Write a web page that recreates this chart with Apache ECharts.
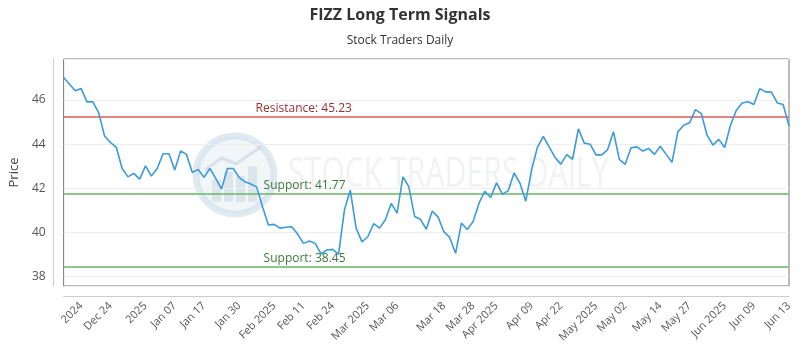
<!DOCTYPE html>
<html>
<head>
<meta charset="utf-8">
<script src="https://cdn.jsdelivr.net/npm/echarts@6/dist/echarts.min.js"></script>
<style>html,body{margin:0;padding:0;background:#fff}#c{width:800px;height:350px}</style>
</head>
<body>
<div id="c"></div>
<script>
const dates = [
"2024-12-12","2024-12-13","2024-12-16","2024-12-17","2024-12-18","2024-12-19","2024-12-20","2024-12-23","2024-12-24","2024-12-26","2024-12-27","2024-12-30","2024-12-31",
"2025-01-02","2025-01-03","2025-01-06","2025-01-07","2025-01-08","2025-01-10","2025-01-13","2025-01-14","2025-01-15","2025-01-16","2025-01-17","2025-01-21","2025-01-22","2025-01-23","2025-01-24","2025-01-27","2025-01-28","2025-01-29","2025-01-30","2025-01-31",
"2025-02-03","2025-02-04","2025-02-05","2025-02-06","2025-02-07","2025-02-10","2025-02-11","2025-02-12","2025-02-13","2025-02-14","2025-02-18","2025-02-19","2025-02-20","2025-02-21","2025-02-24","2025-02-25","2025-02-26","2025-02-27","2025-02-28",
"2025-03-03","2025-03-04","2025-03-05","2025-03-06","2025-03-07","2025-03-10","2025-03-11","2025-03-12","2025-03-13","2025-03-14","2025-03-17","2025-03-18","2025-03-19","2025-03-20","2025-03-21","2025-03-24","2025-03-25","2025-03-26","2025-03-27","2025-03-28","2025-03-31",
"2025-04-01","2025-04-02","2025-04-03","2025-04-04","2025-04-07","2025-04-08","2025-04-09","2025-04-10","2025-04-11","2025-04-14","2025-04-15","2025-04-16","2025-04-17","2025-04-21","2025-04-22","2025-04-23","2025-04-24","2025-04-25","2025-04-28","2025-04-29","2025-04-30",
"2025-05-01","2025-05-02","2025-05-05","2025-05-06","2025-05-07","2025-05-08","2025-05-09","2025-05-12","2025-05-13","2025-05-14","2025-05-15","2025-05-16","2025-05-19","2025-05-20","2025-05-21","2025-05-22","2025-05-23","2025-05-27","2025-05-28","2025-05-29","2025-05-30",
"2025-06-02","2025-06-03","2025-06-04","2025-06-05","2025-06-06","2025-06-09","2025-06-10","2025-06-11","2025-06-12","2025-06-13"
];
const prices = [
47.02,46.72,46.42,46.52,45.92,45.92,45.42,44.37,44.08,43.86,
42.90,42.52,42.68,42.42,43.02,42.56,42.90,43.57,43.57,42.83,
43.70,43.54,42.72,42.86,42.50,42.90,42.45,41.97,42.90,42.90,
42.50,42.30,42.20,42.07,41.17,40.34,40.37,40.20,40.24,40.26,
39.93,39.51,39.62,39.51,39.03,39.21,39.24,39.01,41.02,41.92,
40.20,39.58,39.81,40.40,40.20,40.58,41.32,40.88,42.52,42.08,
40.73,40.60,40.15,40.97,40.71,40.04,39.78,39.06,40.43,40.14,
40.50,41.32,41.87,41.59,42.25,41.74,41.89,42.70,42.24,41.42,
42.83,43.87,44.35,43.88,43.40,43.10,43.53,43.32,44.70,44.05,
44.00,43.52,43.52,43.76,44.56,43.31,43.09,43.84,43.88,43.69,
43.81,43.54,43.91,43.54,43.18,44.56,44.86,44.97,45.57,45.39,
44.41,43.96,44.22,43.85,44.86,45.54,45.87,45.92,45.80,46.52,
46.37,46.36,45.87,45.80,44.82
];
const tickIndices = [3,8,14,19,24,30,36,41,46,52,57,65,70,74,80,85,91,96,102,107,113,118,124];
const tickLabels = ["2024","Dec 24","2025","Jan 07","Jan 17","Jan 30","Feb 2025","Feb 11","Feb 24","Mar 2025","Mar 06","Mar 18","Mar 28","Apr 2025","Apr 09","Apr 22","May 2025","May 02","May 14","May 27","Jun 2025","Jun 09","Jun 13"];
const resistanceLevels = [45.23];
const supportLevels = [41.77, 38.45];
const yMin = 37.58, yMax = 47.86;

const FONT = "'Open Sans', sans-serif";
const chart = echarts.init(document.getElementById('c'), null, {renderer: 'canvas'});

const markData = [];
resistanceLevels.forEach(v => markData.push({
  yAxis: v,
  lineStyle: {color: 'rgba(222,110,110,0.85)', width: 2, type: 'solid'},
  label: {formatter: 'Resistance: ' + v.toFixed(2), color: '#9b3030', distance: [192, 2]}
}));
supportLevels.forEach(v => markData.push({
  yAxis: v,
  lineStyle: {color: 'rgba(120,190,120,0.85)', width: 2, type: 'solid'},
  label: {formatter: 'Support: ' + v.toFixed(2), color: '#3d7a3d', distance: [200, 2]}
}));

chart.setOption({
  animation: false,
  backgroundColor: '#fff',
  title: {
    text: 'FIZZ Long Term Signals',
    subtext: 'Stock Traders Daily',
    left: 'center',
    top: 2,
    itemGap: 12,
    textStyle: {fontFamily: FONT, fontSize: 16, fontWeight: 'bold', color: '#333'},
    subtextStyle: {fontFamily: FONT, fontSize: 12, color: '#333'}
  },
  graphic: [{
    type: 'group', z: -10, silent: true,
    children: [
      {type: 'circle', shape: {cx: 235, cy: 175, r: 39}, style: {fill: 'rgba(215,228,238,0.35)', stroke: 'rgba(200,216,230,0.55)', lineWidth: 7}},
      {type: 'rect', shape: {x: 212, y: 180, width: 9, height: 22}, style: {fill: 'rgba(200,212,224,0.5)'}},
      {type: 'rect', shape: {x: 224, y: 172, width: 9, height: 30}, style: {fill: 'rgba(200,212,224,0.5)'}},
      {type: 'rect', shape: {x: 236, y: 176, width: 9, height: 26}, style: {fill: 'rgba(200,212,224,0.5)'}},
      {type: 'rect', shape: {x: 248, y: 166, width: 9, height: 36}, style: {fill: 'rgba(200,212,224,0.5)'}},
      {type: 'polyline', shape: {points: [[205, 170], [222, 158], [236, 164], [262, 146]]}, style: {stroke: 'rgba(200,212,224,0.6)', lineWidth: 3, fill: null}},
      {type: 'text', x: 288, y: 175, scaleX: 0.72, style: {text: 'STOCK TRADERS DAILY', font: "42px 'Open Sans', sans-serif", fill: 'rgba(120,132,148,0.1)', textVerticalAlign: 'middle', textAlign: 'left'}}
    ]
  }],
  grid: {left: 60.5, right: 11, top: 59, bottom: 64, show: true, borderColor: '#777', borderWidth: 1, backgroundColor: 'transparent'},
  xAxis: {
    type: 'category',
    data: dates,
    boundaryGap: false,
    offset: 10,
    axisLine: {show: true, lineStyle: {color: '#ccc', width: 1}},
    axisTick: {show: false},
    splitLine: {show: false},
    axisLabel: {
      rotate: 45,
      margin: 8,
      fontFamily: FONT,
      fontSize: 11,
      color: '#555',
      interval: (idx) => tickIndices.indexOf(idx) >= 0,
      formatter: (val, idx) => { const k = tickIndices.indexOf(idx); return k >= 0 ? tickLabels[k] : ''; }
    }
  },
  yAxis: {
    type: 'value',
    min: yMin,
    max: yMax,
    splitNumber: 5,
    offset: 10,
    name: 'Price',
    nameLocation: 'middle',
    nameGap: 28,
    nameTextStyle: {fontFamily: FONT, fontSize: 13, color: '#444'},
    axisLine: {show: true, lineStyle: {color: '#ccc', width: 1}},
    axisTick: {show: false},
    splitLine: {show: true, lineStyle: {color: '#eee', width: 1}},
    axisLabel: {
      fontFamily: FONT, fontSize: 12, color: '#555', margin: 8,
      formatter: (v) => (Math.abs(v - Math.round(v)) < 1e-6 && Math.round(v) % 2 === 0) ? String(Math.round(v)) : ''
    }
  },
  series: [{
    type: 'line',
    data: prices,
    showSymbol: false,
    symbol: 'none',
    z: 3,
    lineStyle: {color: '#3b9bd8', width: 1.6},
    markLine: {
      silent: true,
      symbol: 'none',
      z: 2,
      label: {position: 'insideStartTop', fontFamily: FONT, fontSize: 12},
      data: markData
    }
  }]
});
</script>
</body>
</html>
